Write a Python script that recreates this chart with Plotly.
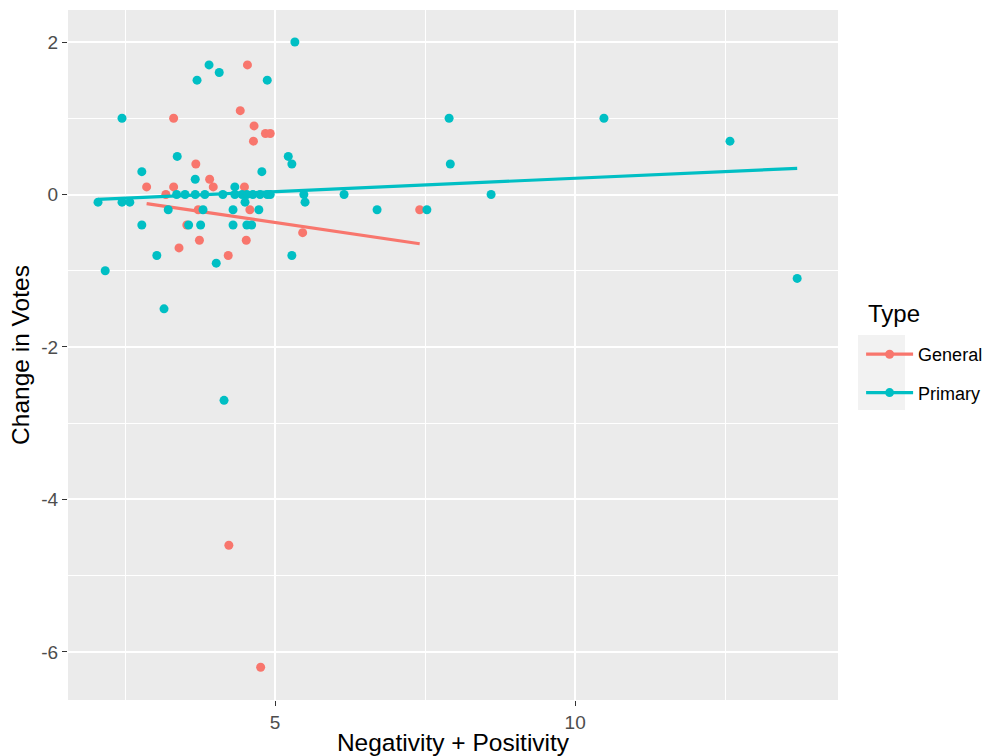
import numpy as np
import plotly.graph_objects as go

# ---- data ----
general_x = [4.54, 3.31, 4.42, 4.65, 4.84, 4.92, 4.64, 3.68, 3.91, 3.97, 2.86, 3.31, 4.49,
             3.18, 3.72, 4.58, 3.53, 3.74, 4.52, 3.40, 4.22, 5.46, 7.41, 4.23, 4.76]
general_y = [1.7, 1.0, 1.1, 0.9, 0.8, 0.8, 0.7, 0.4, 0.2, 0.1, 0.1, 0.1, 0.1,
             0.0, -0.2, -0.2, -0.4, -0.6, -0.6, -0.7, -0.8, -0.5, -0.2, -4.6, -6.2]

primary_x = [2.05, 2.17, 2.45, 2.45, 2.58, 2.78, 2.78, 3.03, 3.15, 3.37, 3.70, 3.90, 4.07,
             4.02, 4.15, 4.87, 5.33, 5.22, 5.28, 5.28, 4.78, 7.90, 7.92, 6.70, 7.53, 8.60,
             6.15, 5.48, 5.50, 10.48, 12.58, 13.70, 3.67, 4.33,
             3.36, 3.50, 3.67, 3.83, 4.13, 4.33, 4.45, 4.53, 4.63, 4.75, 4.87, 4.92,
             3.22, 3.80, 4.30, 4.50, 4.73, 3.56, 3.76, 4.30, 4.53, 4.61]
primary_y = [-0.1, -1.0, 1.0, -0.1, -0.1, 0.3, -0.4, -0.8, -1.5, 0.5, 1.5, 1.7, 1.6,
             -0.9, -2.7, 1.5, 2.0, 0.5, 0.4, -0.8, 0.3, 1.0, 0.4, -0.2, -0.2, 0.0,
             0.0, 0.0, -0.1, 1.0, 0.7, -1.1, 0.2, 0.1,
             0.0, 0.0, 0.0, 0.0, 0.0, 0.0, 0.0, 0.0, 0.0, 0.0, 0.0, 0.0,
             -0.2, -0.2, -0.2, -0.1, -0.2, -0.4, -0.4, -0.4, -0.4, -0.4]

groups = ["General", "Primary"]
colors = {"General": "#F8766D", "Primary": "#00BFC4"}
x_ticks = [5, 10]
y_ticks = [2, 0, -2, -4, -6]
y_ticktext = ["2", "0", "-2", "-4", "-6"]
legend_title = "Type"

data = {"General": (general_x, general_y), "Primary": (primary_x, primary_y)}

FONT = "Liberation Sans, Arial, Helvetica"

fig = go.Figure()
for g in groups:
    xs, ys = np.array(data[g][0]), np.array(data[g][1])
    c = colors[g]
    fig.add_trace(go.Scatter(x=xs, y=ys, mode="markers", showlegend=False,
                             marker=dict(color=c, size=9, line=dict(width=0)),
                             hoverinfo="x+y"))
    slope, inter = np.polyfit(xs, ys, 1)
    lx = np.array([xs.min(), xs.max()])
    fig.add_trace(go.Scatter(x=lx, y=slope * lx + inter, mode="lines", showlegend=False,
                             line=dict(color=c, width=3.2)))
for g in groups:
    fig.add_trace(go.Scatter(x=[None], y=[None], mode="lines+markers", name=g,
                             legendgroup=g,
                             marker=dict(color=colors[g], size=9),
                             line=dict(color=colors[g], width=3.2)))

axis_common = dict(showgrid=True, gridcolor="white", gridwidth=1.6, zeroline=False,
                   ticks="outside", ticklen=5, tickcolor="#333333", tickwidth=1.1,
                   tickfont=dict(family=FONT, size=19, color="#4D4D4D"),
                   showline=False, automargin=False)

fig.update_layout(
    width=991, height=756,
    margin=dict(l=68, r=153, t=10, b=56, autoexpand=False),
    plot_bgcolor="#EBEBEB", paper_bgcolor="white",
    font=dict(family=FONT, color="black"),
    xaxis=dict(range=[1.55, 14.38], tickvals=x_ticks,
               title=dict(text="Negativity + Positivity", font=dict(size=24.5), standoff=3),
               minor=dict(showgrid=True, gridcolor="white", gridwidth=0.8, dtick=2.5, tick0=0),
               **axis_common),
    yaxis=dict(range=[-6.63, 2.42], tickvals=y_ticks, ticktext=y_ticktext,
               title=dict(text="Change in Votes", font=dict(size=24.5), standoff=4),
               minor=dict(showgrid=True, gridcolor="white", gridwidth=0.8, dtick=1, tick0=1),
               **axis_common),
    legend=dict(x=1.030, xanchor="left", y=(700 - 336) / 690, yanchor="top",
                font=dict(size=18), tracegroupgap=12, itemwidth=47,
                bgcolor="rgba(0,0,0,0)"),
    annotations=[dict(text=legend_title, xref="paper", yref="paper",
                      x=(866 - 68) / 770, y=(700 - 313) / 690, xanchor="left", yanchor="middle",
                      showarrow=False, font=dict(size=24, family=FONT, color="black"))],
    shapes=[dict(type="rect", xref="paper", yref="paper",
                 x0=(858 - 68) / 770, x1=(905 - 68) / 770,
                 y0=(700 - 410) / 690, y1=(700 - 335) / 690,
                 fillcolor="#F2F2F2", line=dict(width=0), layer="below")],
    showlegend=True,
)

fig.write_html("out.html")
